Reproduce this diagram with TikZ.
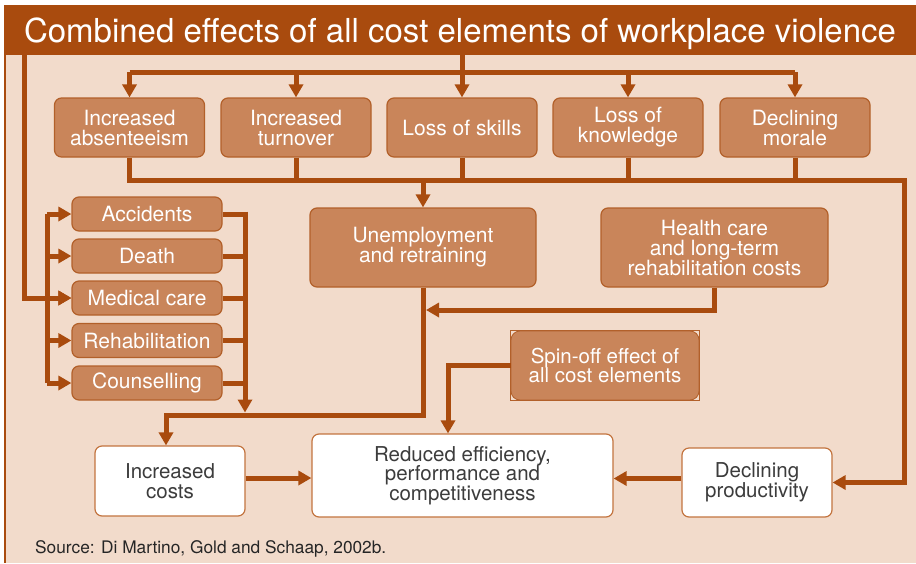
\documentclass[tikz,border=0pt]{standalone}
\usepackage{fontspec}
\setmainfont{TeX Gyre Heros}
\usetikzlibrary{arrows.meta}
\definecolor{bg}{HTML}{F2DBCB}
\definecolor{rust}{HTML}{A94B0E}
\definecolor{boxfill}{HTML}{C9855A}
\definecolor{boxdraw}{HTML}{B2602A}
\definecolor{wdraw}{HTML}{C3743F}
\definecolor{dtext}{HTML}{3C3C3C}
\tikzset{
  obox/.style={rounded corners=7pt, fill=boxfill, draw=boxdraw, line width=1.2pt,
    text=white, align=center, inner sep=0pt,
    font=\fontsize{21}{20}\selectfont},
  wbox/.style={rounded corners=7pt, fill=white, draw=wdraw, line width=1.2pt,
    text=dtext, align=center, inner sep=0pt,
    font=\fontsize{20.5}{19.5}\selectfont},
  line/.style={draw=rust, line width=5pt},
  conn/.style={line, -{Triangle[length=13pt,width=14pt]}},
}
\begin{document}
\begin{tikzpicture}[x=1pt,y=-1pt]
\useasboundingbox (0,0) rectangle (916,563);
\fill[bg] (5,5) rectangle (916,563);
\draw[rust, line width=1.5pt] (5,5) -- (5,563);
\node[fill=rust, minimum width=911pt, minimum height=50pt, inner sep=0pt] (title) at (460.5,30) {};
\node[anchor=base, inner sep=0pt, text=white, font=\fontsize{33}{33}\selectfont] (titletext) at (460,42.5)
  {Combined effects of all cost elements of workplace violence};

% top row
\node[obox, minimum width=150pt, minimum height=59pt] (absent) at (129.5,127.5) {Increased\\absenteeism};
\node[obox, minimum width=150pt, minimum height=59pt] (turn) at (296,127.5) {Increased\\turnover};
\node[obox, minimum width=150pt, minimum height=59pt] (skills) at (462,127.5) {Loss of skills};
\node[obox, minimum width=150pt, minimum height=59pt] (know) at (628,127.5) {Loss of\\knowledge};
\node[obox, minimum width=150pt, minimum height=59pt] (morale) at (795,127.5) {Declining\\morale};

% middle
\node[obox, minimum width=226pt, minimum height=79pt] (unemp) at (423,247.5) {Unemployment\\and retraining};
\node[obox, minimum width=227pt, minimum height=79pt] (health) at (714.5,247.5) {Health care\\and long-term\\rehabilitation costs};

% left cluster
\node[obox, minimum width=150pt, minimum height=34pt] (acc) at (147,214) {Accidents};
\node[obox, minimum width=150pt, minimum height=34pt] (death) at (147,256) {Death};
\node[obox, minimum width=150pt, minimum height=34pt] (med) at (147,298) {Medical care};
\node[obox, minimum width=150pt, minimum height=34pt] (rehab) at (147,340.5) {Rehabilitation};
\node[obox, minimum width=150pt, minimum height=34pt] (couns) at (147,383) {Counselling};

% spin-off
\node[obox, rounded corners=9pt, line width=0.8pt, minimum width=188pt, minimum height=69pt, font=\fontsize{20.5}{19.5}\selectfont] (spin) at (605,365.5) {Spin-off effect of\\all cost elements};
\draw[boxdraw, line width=0.6pt] (spin.north west) rectangle (spin.south east);

% bottom
\node[wbox, minimum width=150pt, minimum height=70pt] (incr) at (170,481) {Increased\\costs};
\node[wbox, minimum width=301pt, minimum height=83pt] (red) at (462.5,475.5) {Reduced efficiency,\\performance and\\competitiveness};
\node[wbox, minimum width=150pt, minimum height=69pt] (prod) at (757,482.5) {Declining\\productivity};

\node[anchor=west, inner sep=0pt, text=black!85, font=\fontsize{17.3}{17.3}\selectfont] (src) at (35,549) {Source: Di Martino, Gold and Schaap, 2002b.};

% helper coordinates
\coordinate (topbus) at (0,72);
\coordinate (rc) at (904,180);
\coordinate (ll) at (24,0);
\coordinate (lb) at (47,0);
\coordinate (rb) at (245,0);
\coordinate (costbus) at (0,415);
\coordinate (hj) at (426,310);
\coordinate (sx) at (448,0);
\coordinate (rbend) at (245,412.5);

% top distribution
\draw[conn] (title.south -| skills) -- (skills.north);
\draw[line] (absent.north |- topbus) -- (morale.north |- topbus);
\foreach \n in {absent,turn,know,morale} \draw[conn] (\n.north |- topbus) -- (\n.north);

% collection bus
\draw[conn] (absent.south) |- (rc) |- (prod.east);
\foreach \n in {turn,skills,know,morale} \draw[line] (\n.south) -- (\n.south |- rc);
\draw[conn] (unemp.north |- rc) -- (unemp.north);

% health care to unemployment line
\draw[conn] (health.south) |- (hj);

% unemployment to increased costs
\draw[conn] (unemp.south) |- ([xshift=-4pt]incr.north |- costbus) -- ([xshift=-4pt]incr.north);

% left feeder
\draw[conn] (title.south -| ll) |- (med.west);
\draw[line] (acc.west -| lb) -- (couns.west -| lb);
\foreach \n in {acc,death,rehab,couns} \draw[conn] (\n.west -| lb) -- (\n.west);
\draw[conn] (med.west -| lb) -- (med.west);

% right collector
\foreach \n in {acc,death,med,rehab,couns} \draw[line] (\n.east) -- (\n.east -| rb);
\draw[conn] ([yshift=2.5pt]acc.east -| rb) -- (rbend);

% spin-off to reduced
\draw[conn] (spin.west) -| (sx |- red.north);

% into reduced efficiency
\draw[conn] ([yshift=3pt]incr.east) -- ([yshift=3pt]incr.east -| red.west);
\draw[conn] ([yshift=4pt]prod.west) -- ([yshift=4pt]prod.west -| red.east);
\end{tikzpicture}
\end{document}
